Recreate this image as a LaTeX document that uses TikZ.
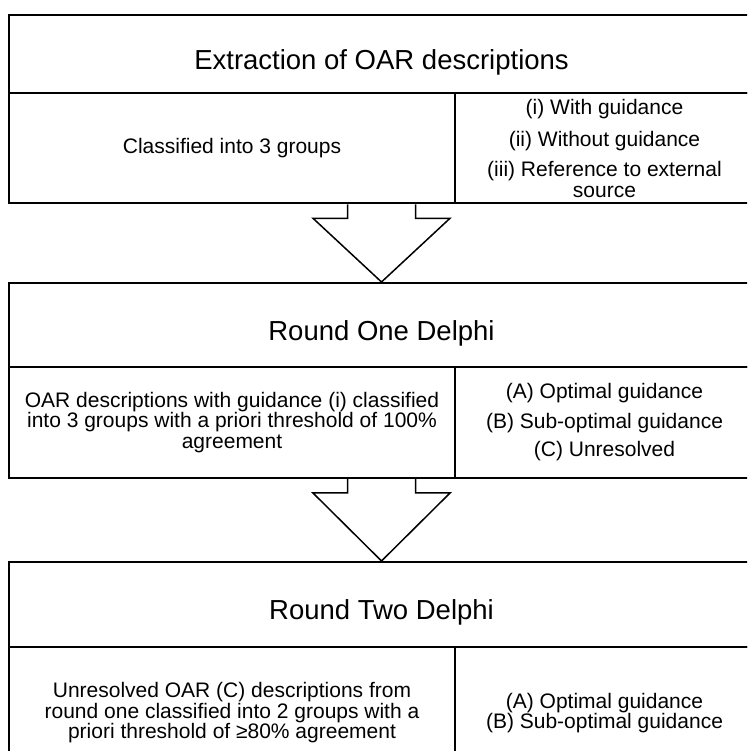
\documentclass[tikz,border=0pt]{standalone}
\usepackage{fontspec}
\setmainfont{Liberation Sans}
\usetikzlibrary{calc}
\tikzset{headnode/.style={rectangle, draw=black, line width=2pt, minimum width=745pt, font=\fontsize{27.5}{30}\selectfont, text height=31pt, text depth=0pt},
cellnode/.style={rectangle, draw=black, line width=2pt, align=center, inner sep=0pt, font=\fontsize{21}{20.5}\selectfont}}

\begin{document}
\begin{tikzpicture}[
        line join=miter,
        leftcell/.style={cellnode, minimum width=446pt},
        rightcell/.style={cellnode, minimum width=299pt},
        blockarrow/.style={draw=black, line width=1.5pt}
    ]
        \useasboundingbox (0pt, 0pt) rectangle (747pt, 751pt);
        \clip (0pt, 0pt) rectangle (747pt, 751pt);
        % Extraction
        \node[headnode, minimum height=78.6pt] (ext) at (381.5pt, 697pt) {Extraction of OAR descriptions};
        \node[leftcell, minimum height=110pt] (extl) at (232pt, 602.7pt) {Classified into 3 groups};
        \node[rightcell, minimum height=110pt] (extr) at (604.5pt, 602.7pt) {(i) With guidance\\[11pt](ii) Without guidance\\[10pt](iii) Reference to external\\source};
        % Round one
        \node[headnode, minimum height=84pt] (rone) at (381.5pt, 426pt) {Round One Delphi};
        \node[leftcell, minimum height=111pt] (ronel) at (232pt, 328.5pt) {OAR descriptions with guidance (i) classified\\into 3 groups with a priori threshold of 100\%\\agreement};
        \node[rightcell, minimum height=111pt] (roner) at (604.5pt, 328.5pt) {(A) Optimal guidance\\[9pt](B) Sub-optimal guidance\\[8pt](C) Unresolved};
        % Round two
        \node[headnode, minimum height=85pt] (rtwo) at (381.5pt, 146.5pt) {Round Two Delphi};
        \node[leftcell, minimum height=132pt] (rtwol) at (232pt, 38pt) {Unresolved OAR (C) descriptions from\\round one classified into 2 groups with a\\priori threshold of ≥80\% agreement};
        \node[rightcell, minimum height=132pt] (rtwor) at (604.5pt, 38pt) {(A) Optimal guidance\\(B) Sub-optimal guidance};
        % Arrows
        \foreach \from/\to in {extl/rone, ronel/rtwo} {
            \coordinate (top) at (\to.north |- \from.south);
            \draw[blockarrow] ($(top)+(-34pt, 0pt)$) -- ++(0pt, -14pt) -- ++(-34.5pt, 0pt) -- (\to.north) -- ($(top)+(68.5pt, -14pt)$) -- ++(-34.5pt, 0pt) -- ($(top)+(34pt, 0pt)$);
        }
    \end{tikzpicture}
\end{document}
